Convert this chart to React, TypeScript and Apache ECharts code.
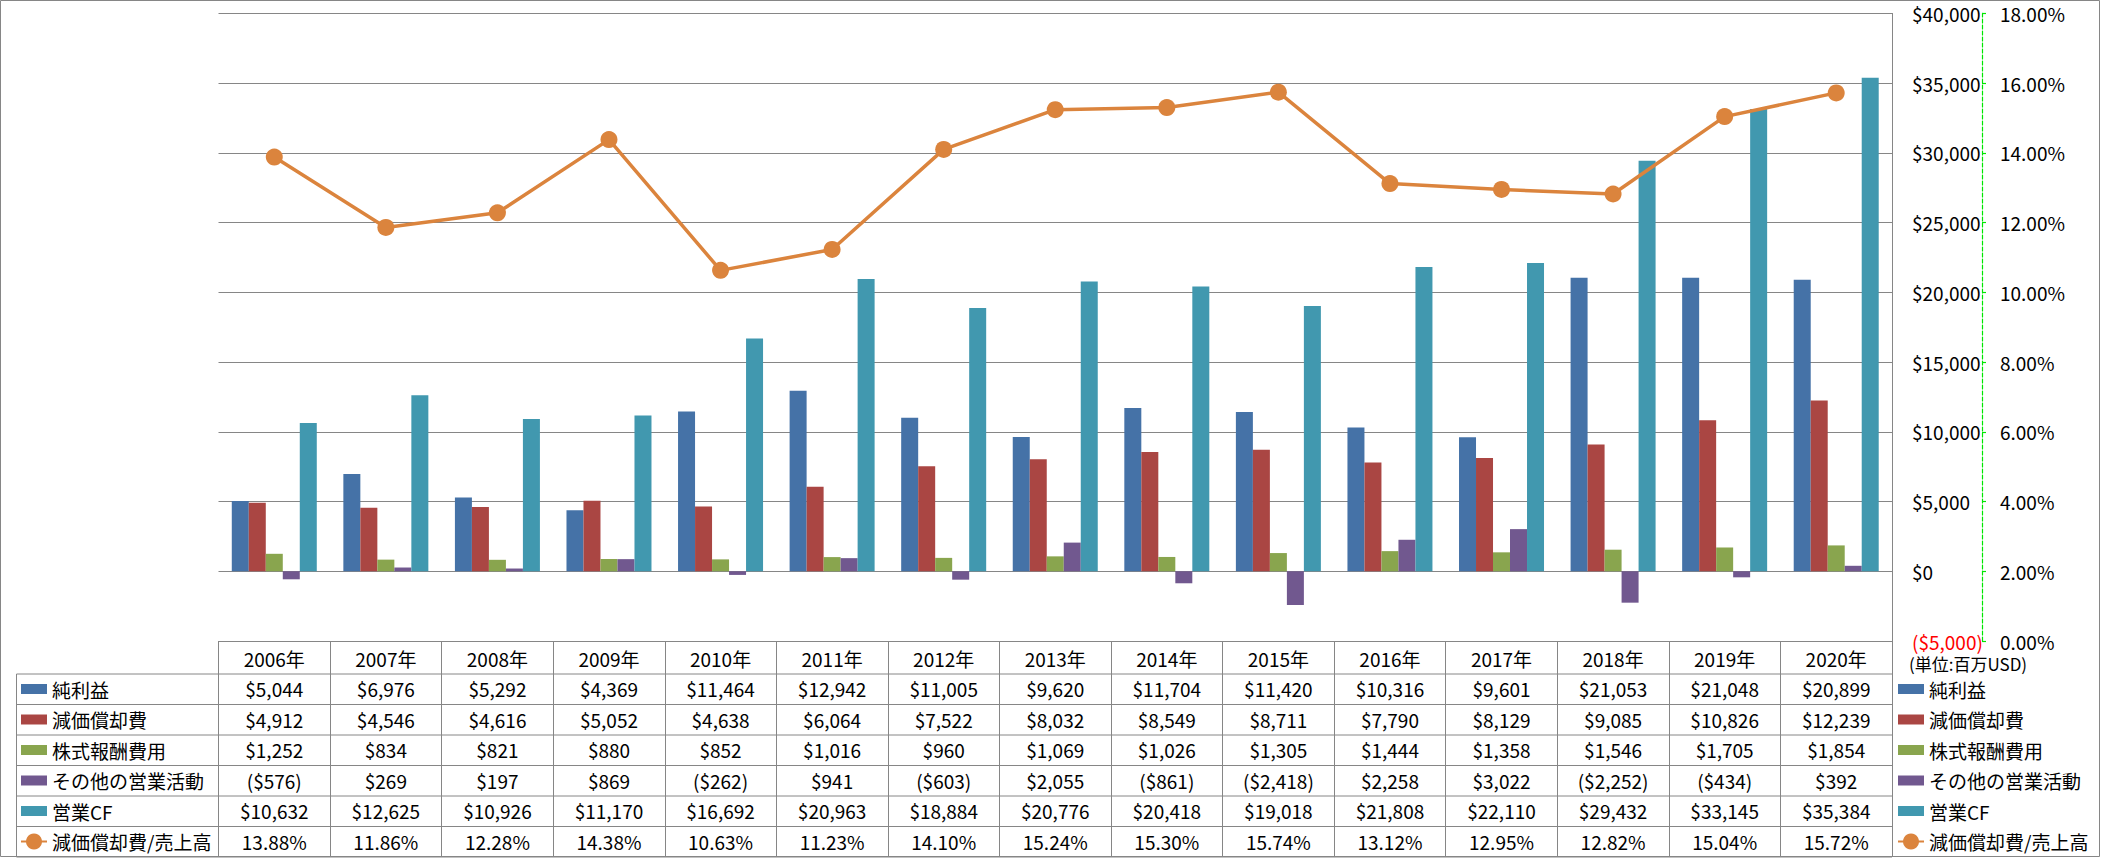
import React, { useEffect, useRef } from 'react';
import * as echarts from 'echarts';

const years = ['2006年', '2007年', '2008年', '2009年', '2010年', '2011年', '2012年', '2013年', '2014年', '2015年', '2016年', '2017年', '2018年', '2019年', '2020年'];
const seriesNames = ['純利益', '減価償却費', '株式報酬費用', 'その他の営業活動', '営業CF', '減価償却費/売上高'];
const netIncome = [5044, 6976, 5292, 4369, 11464, 12942, 11005, 9620, 11704, 11420, 10316, 9601, 21053, 21048, 20899];
const depreciation = [4912, 4546, 4616, 5052, 4638, 6064, 7522, 8032, 8549, 8711, 7790, 8129, 9085, 10826, 12239];
const stockComp = [1252, 834, 821, 880, 852, 1016, 960, 1069, 1026, 1305, 1444, 1358, 1546, 1705, 1854];
const otherOps = [-576, 269, 197, 869, -262, 941, -603, 2055, -861, -2418, 2258, 3022, -2252, -434, 392];
const operatingCF = [10632, 12625, 10926, 11170, 16692, 20963, 18884, 20776, 20418, 19018, 21808, 22110, 29432, 33145, 35384];
const deprRatio = [13.88, 11.86, 12.28, 14.38, 10.63, 11.23, 14.10, 15.24, 15.30, 15.74, 13.12, 12.95, 12.82, 15.04, 15.72];
const unitLabel = '(単位:百万USD)';

const colors = ['#4572A7', '#AA4643', '#89A54E', '#71588F', '#4198AF', '#DB843D'];
const FONT = "'Noto Sans CJK JP', 'Noto Sans', sans-serif";
const GRAY = '#868686';
const GREEN = '#00E600';

const fmtUsd = (v: number) => {
  const s = '$' + Math.abs(v).toLocaleString('en-US');
  return v < 0 ? '(' + s + ')' : s;
};

export default function App() {
  const ref = useRef<HTMLDivElement>(null);
  useEffect(() => {
    if (!ref.current) return;
    const chart = echarts.init(ref.current, null, { renderer: 'svg' });
    const barSeries = [netIncome, depreciation, stockComp, otherOps, operatingCF];

    const gridLeft = 218.5;
    const gridRight = 1892;
    const axisY = 641;
    const rowH = 30.5;
    const tableTop = 674;
    const rowLines = [0, 1, 2, 3, 4, 5, 6].map((i) => tableTop + i * rowH);

    const rectIcon = 'path://M0,0H26V10H0Z';
    const legendBase = {
      orient: 'vertical',
      top: 679,
      itemWidth: 26,
      itemHeight: 20,
      itemGap: 10.5,
      padding: 0,
      selectedMode: false,
      textStyle: { fontSize: 19, lineHeight: 20, color: '#000', fontFamily: FONT },
      data: [
        ...seriesNames.slice(0, 5).map((n) => ({ name: n, icon: rectIcon })),
        { name: seriesNames[5] },
      ],
    };

    const graphics: any[] = [
      {
        type: 'rect',
        silent: true,
        z: -10,
        shape: { x: 0.5, y: 0.5, width: 2099, height: 856 },
        style: { fill: 'none', stroke: GRAY, lineWidth: 1 },
      },
      ...rowLines.map((y) => ({
        type: 'line',
        silent: true,
        shape: { x1: 16.5, y1: y, x2: gridRight, y2: y },
        style: { stroke: GRAY, lineWidth: 1 },
      })),
      {
        type: 'line',
        silent: true,
        shape: { x1: 16.5, y1: tableTop, x2: 16.5, y2: rowLines[6] },
        style: { stroke: GRAY, lineWidth: 1 },
      },
      {
        type: 'text',
        silent: true,
        x: 1909,
        y: 663,
        style: { text: unitLabel, fontSize: 17, fontFamily: FONT, fill: '#000', verticalAlign: 'middle' },
      },
    ];

    chart.setOption({
      animation: false,
      backgroundColor: '#fff',
      textStyle: { fontFamily: FONT },
      grid: { left: gridLeft, right: 2101 - gridRight, top: 13.4, bottom: 858 - axisY, containLabel: false },
      legend: [
        { ...legendBase, left: 20 },
        { ...legendBase, left: 1897 },
      ],
      xAxis: {
        type: 'category',
        data: years,
        boundaryGap: true,
        position: 'bottom',
        axisLine: { show: true, onZero: false, lineStyle: { color: GRAY, width: 1 } },
        axisTick: { show: true, interval: 0, length: rowLines[6] - axisY, lineStyle: { color: GRAY, width: 1 } },
        splitLine: { show: false },
        axisLabel: {
          interval: 0,
          margin: 2,
          fontSize: 19,
          lineHeight: rowH,
          color: '#000',
          fontFamily: FONT,
          formatter: (val: string, idx: number) =>
            [
              val,
              fmtUsd(netIncome[idx]),
              fmtUsd(depreciation[idx]),
              fmtUsd(stockComp[idx]),
              fmtUsd(otherOps[idx]),
              fmtUsd(operatingCF[idx]),
              deprRatio[idx].toFixed(2) + '%',
            ].join('\n'),
        },
      },
      yAxis: [
        {
          type: 'value',
          min: -5000,
          max: 40000,
          interval: 5000,
          position: 'right',
          axisLine: { show: true, lineStyle: { color: GRAY, width: 1 } },
          axisTick: { show: false },
          splitLine: { show: true, lineStyle: { color: GRAY, width: 1 } },
          axisLabel: {
            margin: 20,
            fontSize: 19,
            color: '#000',
            fontFamily: FONT,
            formatter: (v: number) => (v < 0 ? '{neg|' + fmtUsd(v) + '}' : fmtUsd(v)),
            rich: { neg: { color: '#FF0000', fontSize: 19, fontFamily: FONT } },
          },
        },
        {
          type: 'value',
          min: 0,
          max: 18,
          interval: 2,
          position: 'right',
          offset: 90,
          axisLine: { show: true, lineStyle: { color: GREEN, width: 1.2, type: [4, 2] } },
          axisTick: { show: true, length: 4, lineStyle: { color: GREEN, width: 1.2 } },
          splitLine: { show: false },
          axisLabel: {
            margin: 18,
            fontSize: 19,
            color: '#000',
            fontFamily: FONT,
            formatter: (v: number) => v.toFixed(2) + '%',
          },
        },
      ],
      series: [
        ...barSeries.map((d, i) => ({
          name: seriesNames[i],
          type: 'bar',
          data: d,
          barWidth: 17,
          barGap: '0%',
          itemStyle: { color: colors[i] },
        })),
        {
          name: seriesNames[5],
          type: 'line',
          yAxisIndex: 1,
          data: deprRatio,
          symbol: 'circle',
          symbolSize: 17,
          z: 5,
          lineStyle: { color: colors[5], width: 3.5 },
          itemStyle: { color: colors[5] },
        },
      ],
      graphic: graphics,
    });
    return () => chart.dispose();
  }, []);
  return (
    <div
      ref={ref}
      style={{ position: 'fixed', left: 0, top: 0, width: 2101, height: 858, background: '#fff' }}
    />
  );
}
